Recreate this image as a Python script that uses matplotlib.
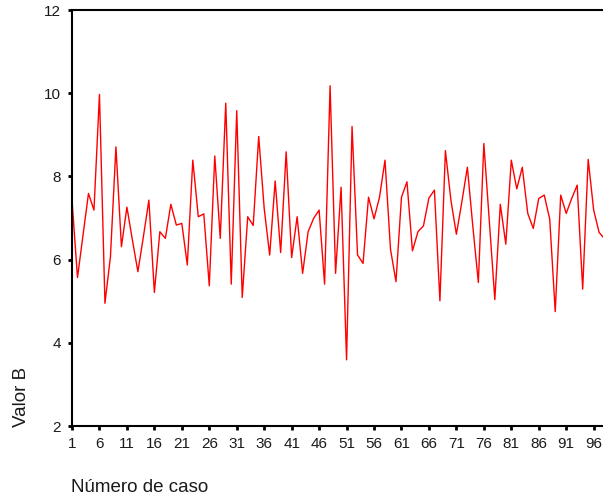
import numpy as np
import matplotlib.pyplot as plt

plt.rcParams['font.family'] = ['Liberation Sans', 'DejaVu Sans']

# values, case 1..98
valor_b = [7.43, 5.57, 6.58, 7.59, 7.19, 9.97, 4.95, 6.07, 8.71, 6.31,
           7.26, 6.47, 5.71, 6.55, 7.43, 5.21, 6.67, 6.51, 7.33, 6.83,
           6.87, 5.87, 8.39, 7.03, 7.10, 5.37, 8.49, 6.51, 9.76, 5.41,
           9.58, 5.09, 7.03, 6.82, 8.96, 7.23, 6.11, 7.89, 6.17, 8.59,
           6.05, 7.03, 5.67, 6.67, 6.99, 7.19, 5.41, 10.18, 5.67, 7.74,
           3.59, 9.20, 6.11, 5.91, 7.50, 6.98, 7.50, 8.39, 6.25, 5.47,
           7.50, 7.87, 6.21, 6.67, 6.81, 7.48, 7.67, 5.01, 8.62, 7.43,
           6.61, 7.39, 8.22, 6.79, 5.45, 8.79, 6.92, 5.04, 7.33, 6.37,
           8.39, 7.70, 8.22, 7.11, 6.75, 7.47, 7.55, 6.97, 4.75, 7.55,
           7.11, 7.47, 7.79, 5.29, 8.41, 7.19, 6.65, 6.50]
caso = np.arange(1, len(valor_b) + 1)
x_ticks = list(range(1, 97, 5))
y_ticks = [2, 4, 6, 8, 10, 12]

fig = plt.figure(figsize=(6.03, 5.03), dpi=100)
ax = fig.add_axes([72 / 603, 1 - 426 / 503, 1 - 72 / 603, 416 / 503])

ax.plot(caso, valor_b, color='#ff0000', linewidth=1.0)

ax.set_xlim(1, 97.7)
ax.set_ylim(2, 12)
ax.set_xticks(x_ticks)
ax.set_yticks(y_ticks)
ax.tick_params(length=3, width=2, labelsize=11, colors='black',
               labelcolor='#1a1a1a', pad=5)
ax.spines['right'].set_visible(False)
for s in ['left', 'top', 'bottom']:
    ax.spines[s].set_linewidth(1.5)

fig.text(21 / 603, 1 - 427 / 503, 'Valor B', rotation=90,
         ha='center', va='bottom', fontsize=13.5, color='#1a1a1a')
fig.text(71 / 603, 1 - 488 / 503, 'Número de caso',
         ha='left', va='center', fontsize=13.5, color='#1a1a1a')

fig.savefig('out.png', dpi=100)
